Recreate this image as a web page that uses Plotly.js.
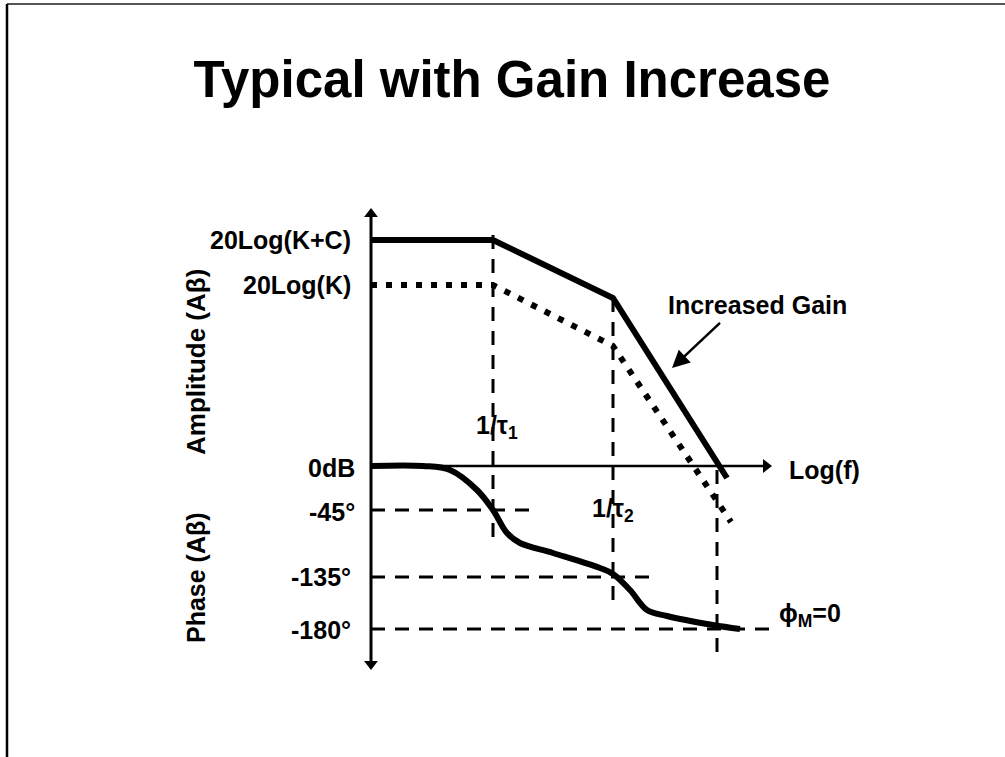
<!DOCTYPE html>
<html>
<head>
<meta charset="utf-8">
<script src="https://cdn.plot.ly/plotly-3.0.1.min.js"></script>
<style>html,body{margin:0;padding:0;background:#fff;}#chart{width:1005px;height:757px;}</style>
</head>
<body>
<div id="chart"></div>
<script>
// Diagram units: x = log-frequency position (0 at vertical axis), y = level (0 at 0dB line)
var breakX = [0, 122, 242, 356];
var gainIncreased = [226, 226, 168, -12];
var gainOrigX = [0, 122, 242, 319, 360];
var gainOriginal = [181, 181, 120, 6, -56];
var phaseX = [0, 52, 79, 106, 122, 136, 149, 182, 229, 242, 259, 276, 296, 342, 369];
var phaseY = [0, 0, -4, -24, -44, -67, -77, -87, -102, -108, -124, -144, -150, -159, -163];
var tau1X = 122, tau2X = 242, crossX = 346;
var levelKC = 226, levelK = 181;
var deg45 = -44, deg135 = -111, deg180 = -163;
var axisTop = 252, axisBottom = -198, axisRight = 395;

var F = 'Arial, "Liberation Sans", sans-serif';
var traces = [];
function line(x, y, w, dash, shape) {
  traces.push({x: x, y: y, mode: 'lines', type: 'scatter', hoverinfo: 'skip',
    line: {color: '#000', width: w, dash: dash || 'solid', shape: shape || 'linear', smoothing: 1}});
}
// axes
line([0, 0], [axisTop, axisBottom], 3);
line([0, axisRight], [0, 0], 2.5);
traces.push({x: [0, 0, axisRight], y: [axisTop, axisBottom, 0], mode: 'markers', type: 'scatter', hoverinfo: 'skip',
  marker: {symbol: ['triangle-up', 'triangle-down', 'triangle-right'], size: 12, color: '#000', line: {width: 0}}});
// dashed guides
var dsh = '14px,10px';
line([tau1X, tau1X], [231, -75], 3, dsh);
line([tau2X, tau2X], [168, -139], 3, dsh);
line([crossX, crossX], [-4, -194], 3, dsh);
line([0, 159], [deg45, deg45], 3, dsh);
line([0, 281], [deg135, deg135], 3, dsh);
line([0, 401], [deg180, deg180], 3, dsh);
// amplitude curves
line(gainOrigX, gainOriginal, 6, '6px,9px');
line(breakX, gainIncreased, 6);
// phase
line(phaseX, phaseY, 6, 'solid', 'spline');

function ann(x, y, text, xanchor, extra) {
  var a = {x: x, y: y, text: text, showarrow: false, xanchor: xanchor || 'center', yanchor: 'middle',
    font: {family: F, size: 25, color: '#000', weight: 'bold'}};
  for (var k in extra) a[k] = extra[k];
  return a;
}
var annotations = [
  ann(-18, levelKC, '20Log(K+C)', 'right'),
  ann(-18, levelK, '20Log(K)', 'right'),
  ann(-14, -2, '0dB', 'right'),
  ann(-14, -46, '-45°', 'right'),
  ann(-18, -111, '-135°', 'right'),
  ann(-18, -164, '-180°', 'right'),
  ann(126, 39, '1/τ<sub>1</sub>', 'center'),
  ann(242, -44, '1/τ<sub>2</sub>', 'center'),
  ann(416, -4, 'Log(f)', 'left'),
  ann(386, 161, 'Increased Gain', 'center'),
  ann(406, -149, 'ϕ<sub>M</sub>=0', 'left'),
  ann(-175, 104, 'Amplitude (Aβ)', 'center', {textangle: -90, font: {family: F, size: 26, color: '#000', weight: 'bold'}}),
  ann(-175, -112, 'Phase (Aβ)', 'center', {textangle: -90}),
  {x: 301, y: 98, ax: 352, ay: 146, axref: 'x', ayref: 'y', text: ' ', showarrow: true,
   arrowhead: 2, arrowsize: 1.4, arrowwidth: 2.5, arrowcolor: '#000', standoff: 0}
];

var layout = {
  width: 1005, height: 757, margin: {l: 0, r: 0, t: 0, b: 0},
  paper_bgcolor: '#fff', plot_bgcolor: '#fff', showlegend: false,
  title: {text: 'Typical with Gain Increase', font: {family: F, size: 51, color: '#000', weight: 'bold'},
    x: 512 / 1005, xanchor: 'center', xref: 'container', y: 1 - 79 / 757, yanchor: 'middle', yref: 'container'},
  xaxis: {range: [-371, 634], visible: false, fixedrange: true},
  yaxis: {range: [-291, 466], visible: false, fixedrange: true},
  annotations: annotations,
  shapes: [
    {type: 'line', xref: 'paper', yref: 'paper', x0: 7 / 1005, x1: 1, y0: 1 - 4 / 757, y1: 1 - 4 / 757, line: {color: '#555', width: 2}},
    {type: 'line', xref: 'paper', yref: 'paper', x0: 7 / 1005, x1: 7 / 1005, y0: 1 - 4 / 757, y1: 0, line: {color: '#000', width: 2.5}}
  ]
};
Plotly.newPlot('chart', traces, layout, {staticPlot: true, displayModeBar: false});
</script>
</body>
</html>
